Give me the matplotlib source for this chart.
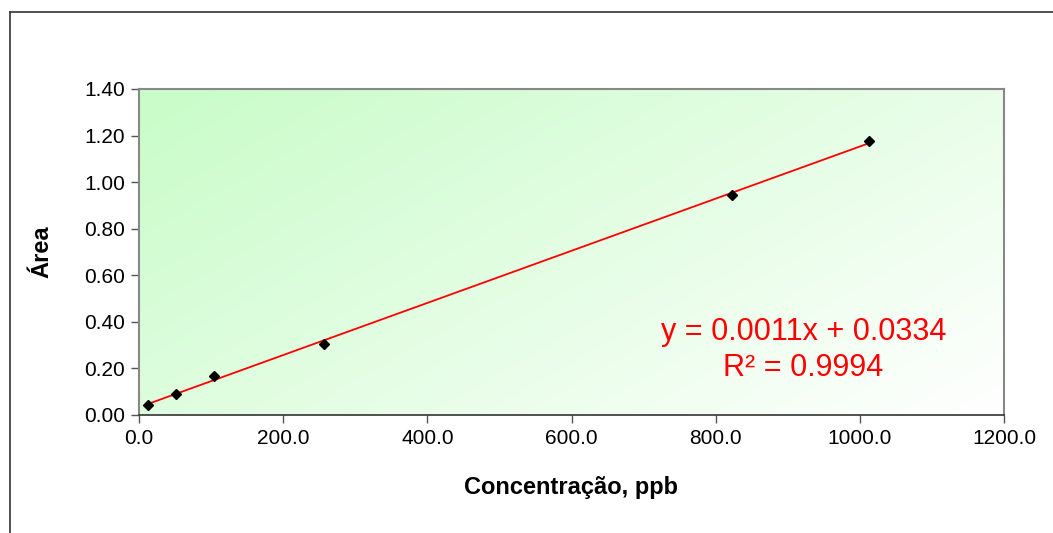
import numpy as np
import matplotlib
matplotlib.use("Agg")
import matplotlib.pyplot as plt
from matplotlib.lines import Line2D
from matplotlib.colors import LinearSegmentedColormap

plt.rcParams['font.family'] = ['Liberation Sans', 'DejaVu Sans']

# Calibration data
concentracao = [12.9, 51.0, 104.4, 256.5, 823.0, 1013.0]
area = [0.0448, 0.091, 0.168, 0.305, 0.946, 1.177]

x_ticks = [0, 200, 400, 600, 800, 1000, 1200]
y_ticks = [0.0, 0.2, 0.4, 0.6, 0.8, 1.0, 1.2, 1.4]

W, H = 1053, 533
fig = plt.figure(figsize=(W / 100, H / 100), dpi=100)
fig.patch.set_facecolor('white')

# Outer chart frame (top and left edges)
fig.add_artist(Line2D([10 / W, 10 / W], [0, 1 - 12 / H], transform=fig.transFigure,
                      color='#333333', lw=1.2))
fig.add_artist(Line2D([10 / W, 1], [1 - 12 / H, 1 - 12 / H], transform=fig.transFigure,
                      color='#333333', lw=1.2))

left, right, top, bottom = 139, 1004, 89, 415
ax = fig.add_axes([left / W, 1 - bottom / H, (right - left) / W, (bottom - top) / H])

# Diagonal green-to-white background gradient (green at top-left)
cmap = LinearSegmentedColormap.from_list('bg', ['#c8fcc8', '#ffffff'])
n = 300
gx, gy = np.meshgrid(np.linspace(0, 1, n), np.linspace(0, 1, n))
grad = (gx * 0.6 + gy * 0.4)
ax.imshow(grad, cmap=cmap, origin='upper', extent=[0, 1, 0, 1], transform=ax.transAxes,
          aspect='auto', zorder=0, interpolation='bilinear')

ax.set_xlim(0, 1200)
ax.set_ylim(0, 1.4)

# Linear trendline
xs = np.array(concentracao)
ys = np.array(area)
slope, intercept = np.polyfit(xs, ys, 1)
pred = slope * xs + intercept
r2 = 1 - np.sum((ys - pred) ** 2) / np.sum((ys - ys.mean()) ** 2)
xl = np.array([xs.min(), xs.max()])
ax.plot(xl, slope * xl + intercept, color='#ff0000', lw=1.3, zorder=2)

ax.plot(xs, ys, linestyle='none', marker='D', markersize=5.5, color='black', zorder=3)

ax.text(922, 0.356, f"y = {slope:.4f}x + {intercept:.4f}", color='#ff0000',
        fontsize=22, ha='center', va='center')
ax.text(922, 0.202, f"R\u00b2 = {r2:.4f}", color='#ff0000',
        fontsize=22, ha='center', va='center')

ax.set_xticks(x_ticks)
ax.set_xticklabels([f"{v:.1f}" for v in x_ticks])
ax.set_yticks(y_ticks)
ax.set_yticklabels([f"{v:.2f}" for v in y_ticks])
ax.tick_params(axis='both', direction='out', length=6, width=1, color='#555555',
               labelsize=15, labelcolor='black', pad=4)

for side in ['top', 'right', 'left']:
    ax.spines[side].set_color('#888888')
    ax.spines[side].set_linewidth(1.5)
ax.spines['bottom'].set_color('#333333')
ax.spines['bottom'].set_linewidth(1.2)

ax.set_xlabel("Concentração, ppb", fontsize=17, fontweight='bold', labelpad=20)
ax.set_ylabel("Área", fontsize=17, fontweight='bold', labelpad=22)

fig.savefig('out.png', dpi=100)
